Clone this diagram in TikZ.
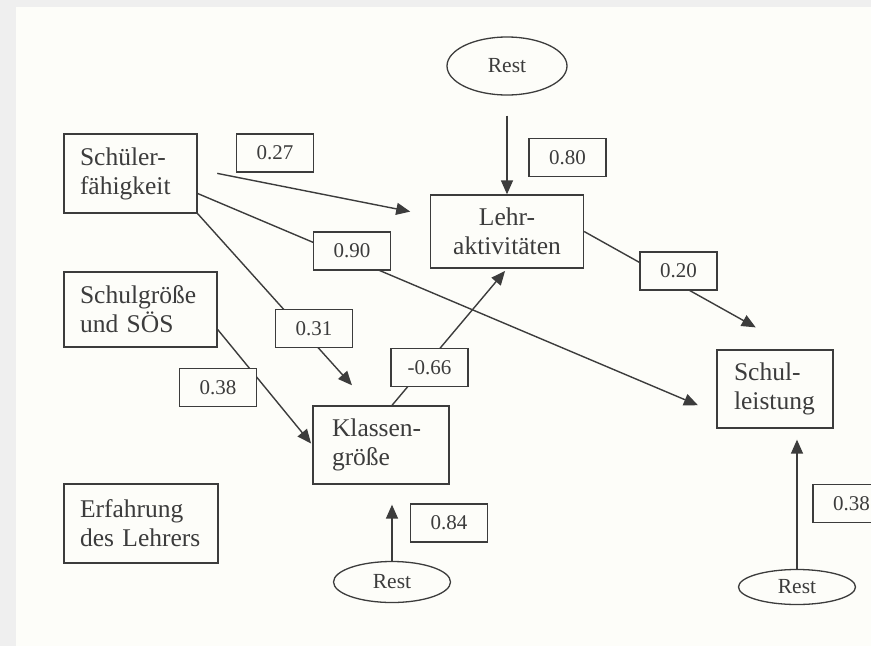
\documentclass[tikz,border=0pt]{standalone}
\usepackage{fontspec}
\setmainfont{Liberation Serif}
\usetikzlibrary{arrows.meta,shapes.geometric}

\definecolor{paper}{HTML}{FDFDF9}
\definecolor{margin}{HTML}{EFEFEF}
\definecolor{ink}{HTML}{3C3C3C}

\begin{document}
\begin{tikzpicture}[x=1pt, y=-1pt, >={Triangle[length=14pt,width=12pt]},
  var/.style={draw=ink, line width=1.3pt, text=ink, inner xsep=16pt, inner ysep=0pt,
    font=\fontsize{25.5}{29}\selectfont},
  weight/.style={draw=ink, line width=1.3pt, fill=paper, text=ink, inner sep=0pt,
    minimum width=77pt, minimum height=38pt, font=\fontsize{21}{24}\selectfont},
  rest/.style={ellipse, draw=ink, line width=1.3pt, text=ink, inner sep=0pt,
    font=\fontsize{21.5}{24}\selectfont},
  arr/.style={->, draw=ink, line width=1.4pt}]
  % Page of the scan
  \fill[margin] (0,0) rectangle (871,646);
  \fill[paper] (16,7) rectangle (871,646);
  \useasboundingbox (0,0) rectangle (871,646);

  % Variables
  \node[var, align=left, text width=101pt, minimum height=79pt] (schueler) at (130.5,173.5) {Schüler-\\fähigkeit};
  \node[var, align=center, text width=121pt, minimum height=73pt] (lehr) at (507,231.5) {Lehr-\\aktivitäten};
  \node[var, align=left, text width=121pt, minimum height=75pt] (schulgr) at (140.5,309.5) {Schulgröße\\und SÖS};
  \node[var, align=left, inner xsep=19pt, text width=98pt, minimum height=78pt] (klassen) at (381,445) {Klassen-\\größe};
  \node[var, align=left, text width=122pt, minimum height=79pt] (erfahrung) at (141,523.5) {Erfahrung\\des Lehrers};
  \node[var, align=left, inner xsep=17pt, text width=82pt, minimum height=78pt] (leistung) at (775,389) {Schul-\\leistung};

  % Residuals
  \node[rest, minimum width=120pt, minimum height=58pt] (restL) at (507,66) {Rest};
  \node[rest, minimum width=117pt, minimum height=41pt] (restK) at (392,582) {Rest};
  \node[rest, minimum width=117pt, minimum height=35pt] (restS) at (797,587) {Rest};

  % Paths
  \draw[arr, shorten <=20pt, shorten >=20pt] ([yshift=4pt]schueler.east) -- ([yshift=16pt]lehr.west);
  \draw[arr, shorten >=20pt] ([yshift=-20pt]schueler.east) -- ([yshift=-24pt]leistung.west);
  \draw[arr, shorten >=27pt] (schueler.south east) -- ([xshift=-11pt]klassen.north);
  \draw[arr, shorten >=2pt] ([yshift=-20pt]schulgr.east) -- (klassen.west);
  \draw[arr, shorten >=3pt] ([xshift=11pt]klassen.north) -- (lehr.south);
  \draw[arr, shorten >=45pt] (lehr.east) -- ([xshift=20pt]leistung.north);
  \draw[arr, shorten <=20pt] (restL.south) -- (lehr.north);
  \draw[arr, shorten >=20pt] (restK.north) -- ([xshift=11pt]klassen.south);
  \draw[arr, shorten >=11pt] (restS.north) -- ([xshift=22pt]leistung.south);

  % Path coefficients
  \node[weight] (w27) at (275,153) {0.27};
  \node[weight] (w80) at (567.5,157.5) {0.80};
  \node[weight] (w90) at (352,251) {0.90};
  \node[weight] (w31) at (314,328.5) {0.31};
  \node[weight] (w38a) at (218,387.5) {0.38};
  \node[weight] (w66) at (429.5,367.5) {-0.66};
  \node[weight] (w20) at (678.5,271) {0.20};
  \node[weight] (w84) at (449,523) {0.84};
  \node[weight] (w38b) at (851.5,503.5) {0.38};
\end{tikzpicture}
\end{document}
